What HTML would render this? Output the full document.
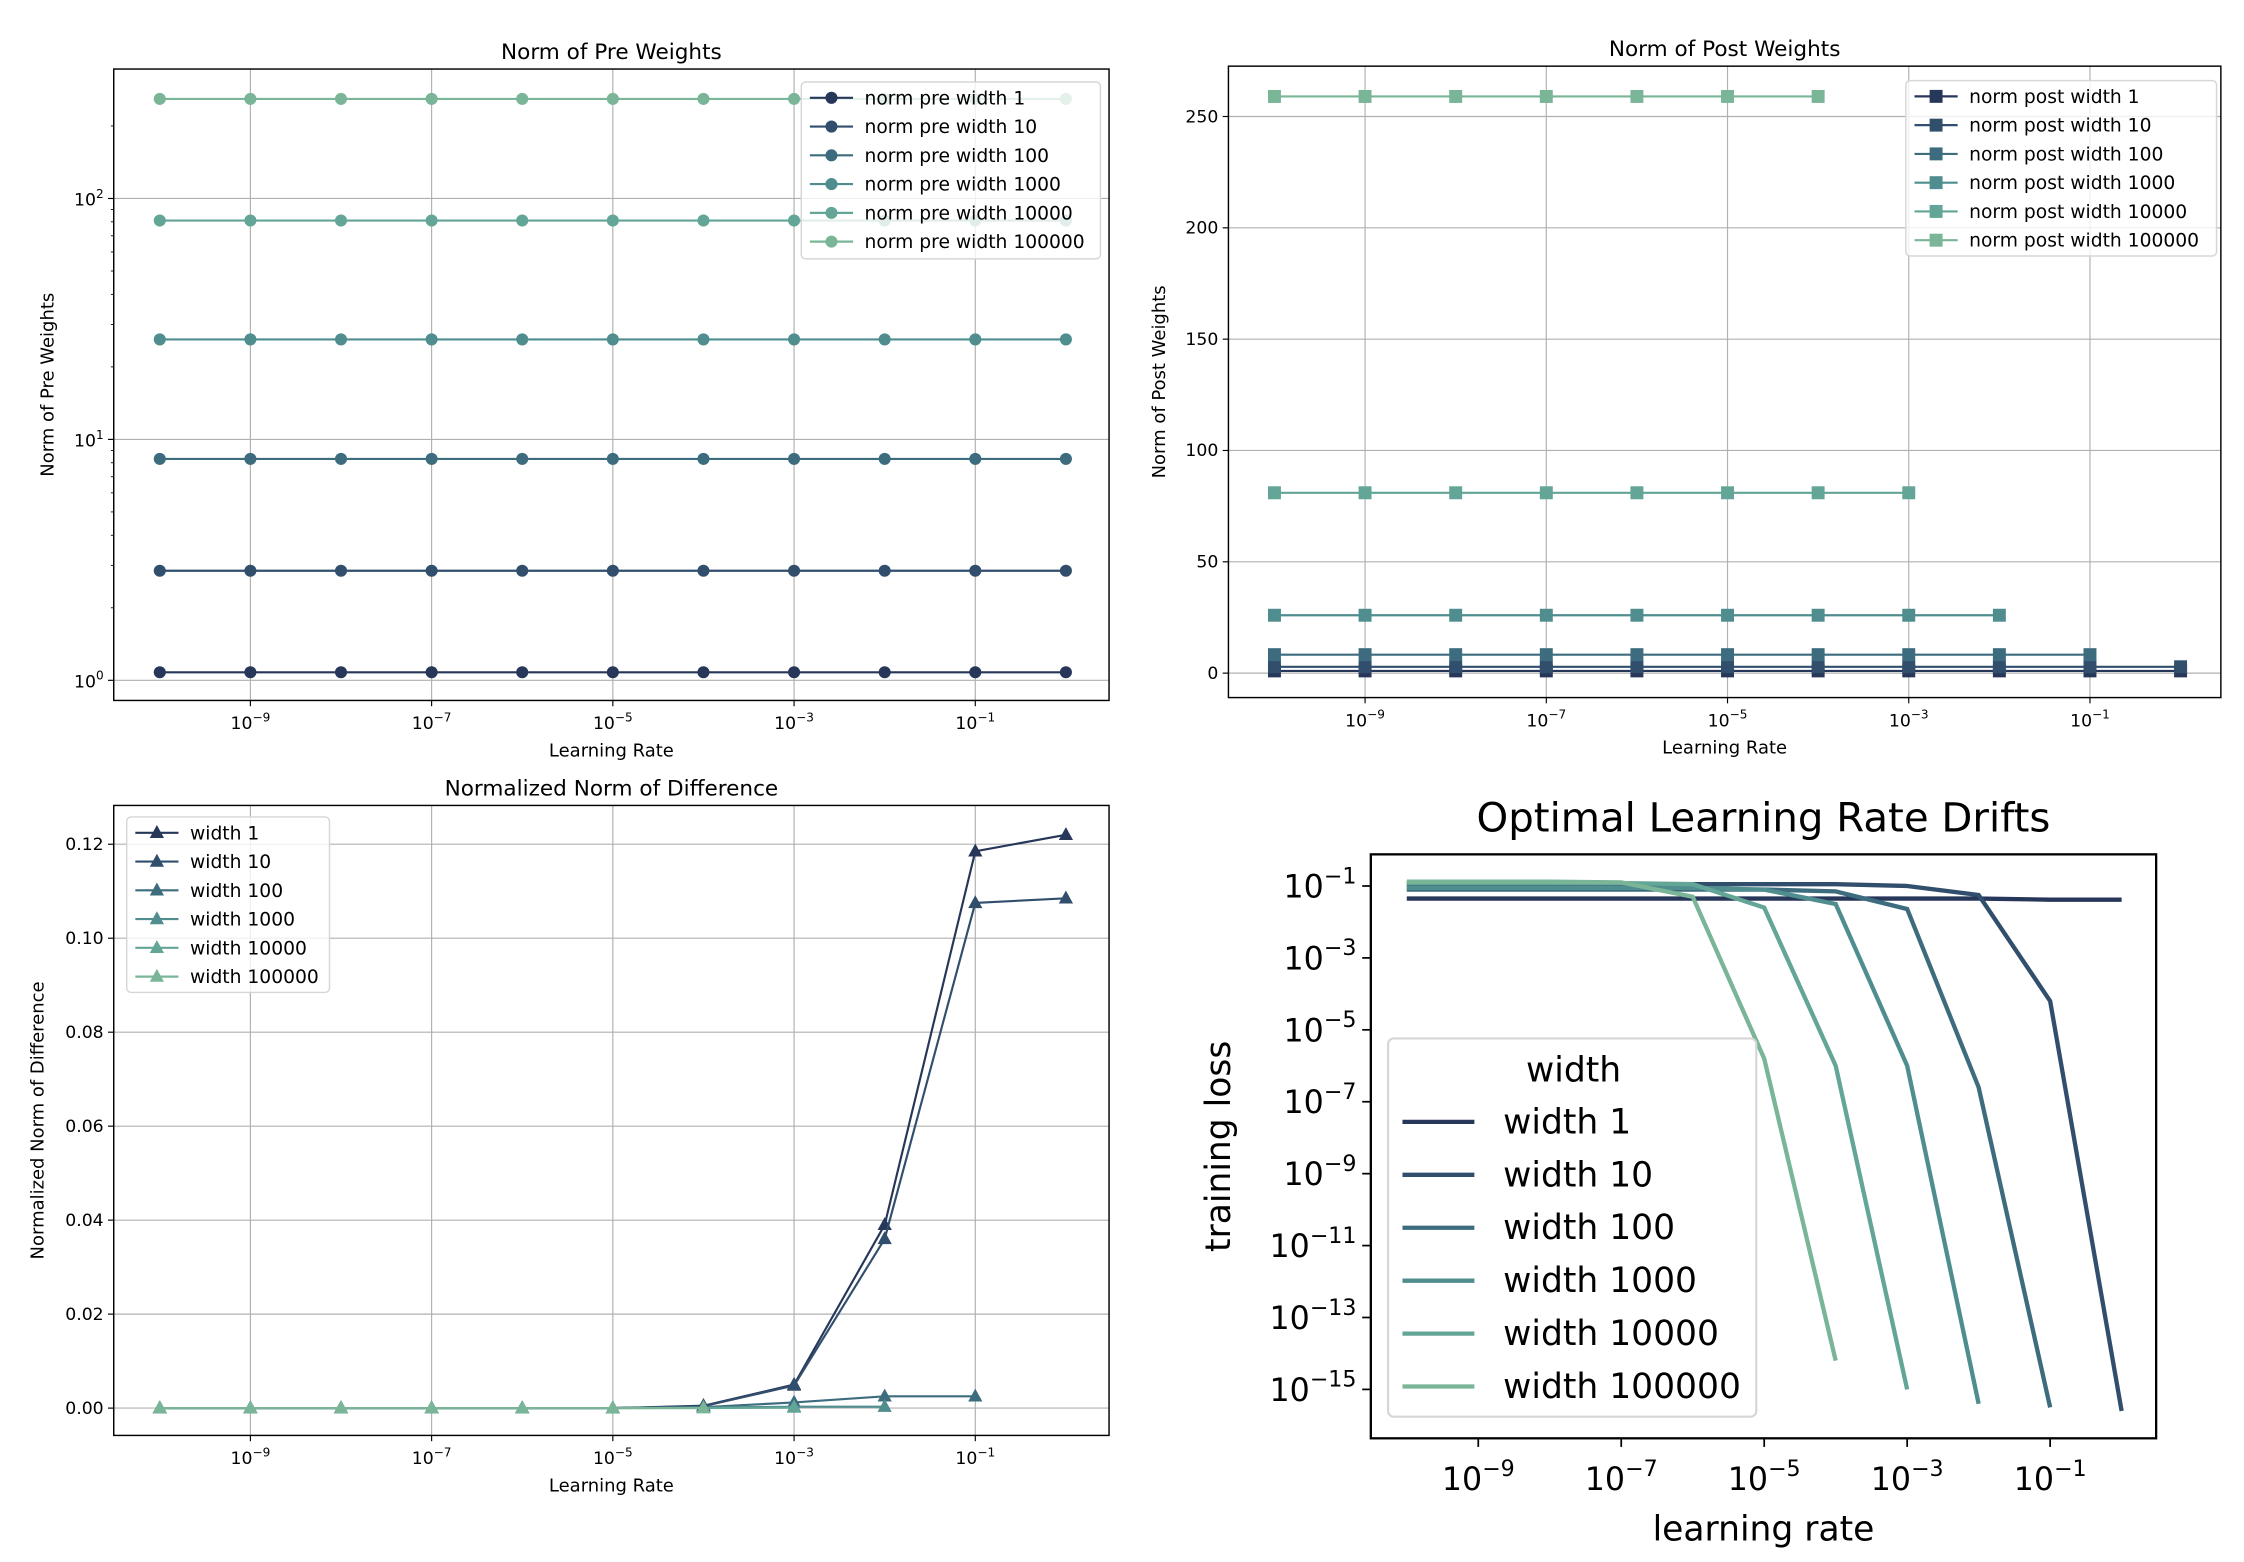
<!DOCTYPE html>
<html><head><meta charset="utf-8"><style>
html,body{margin:0;padding:0;background:#fff;}
svg{display:block;font-family:"DejaVu Sans","Liberation Sans",sans-serif;}
</style></head><body>
<svg id="fig" width="2244" height="1562" viewBox="0 0 1560 1086" xmlns="http://www.w3.org/2000/svg"></svg>
<script>
const lrExp = [-10,-9,-8,-7,-6,-5,-4,-3,-2,-1,0];
const widths = ["1","10","100","1000","10000","100000"];
const colors = ["#273759","#314f6d","#3d6c7e","#4f8d8f","#63a596","#79b596"];
// Norm of pre weights (constant across lr)
const preVals = [1.08, 2.85, 8.3, 26, 81, 259];
// Norm of post weights: number of lr points present per width
const postVals = [1.0, 2.85, 8.3, 26, 81, 259];
const postCount = [11, 11, 10, 9, 8, 7];
// Normalized norm of difference
const diff1 = [0,0,0,0,0,0,0.0005,0.005,0.039,0.1185,0.122];
const diff10 = [0,0,0,0,0,0,0.0004,0.0048,0.036,0.1075,0.1085];
const diff100 = [0,0,0,0,0,0,0.0002,0.0012,0.0025,0.0025,null];
const diff1000 = [0,0,0,0,0,0,0.0001,0.0003,0.0003,null,null];
const diff10000 = [0,0,0,0,0,0,0,0.0001,null,null,null];
const diff100000 = [0,0,0,0,0,0,0,null,null,null,null];
// training loss, log10 values
const loss1 = [-1.35,-1.35,-1.35,-1.35,-1.35,-1.35,-1.35,-1.35,-1.35,-1.38,-1.38];
const loss10 = [-0.95,-0.95,-0.95,-0.95,-0.95,-0.95,-0.95,-1.0,-1.25,-4.2,-15.6];
const loss100 = [-1.1,-1.1,-1.1,-1.1,-1.1,-1.1,-1.15,-1.64,-6.6,-15.5,null];
const loss1000 = [-1.05,-1.05,-1.05,-1.05,-1.05,-1.1,-1.5,-6.0,-15.4,null,null];
const loss10000 = [-0.92,-0.92,-0.92,-0.92,-0.95,-1.6,-6.0,-15.0,null,null,null];
const loss100000 = [-0.88,-0.88,-0.88,-0.9,-1.3,-5.8,-14.2,null,null,null,null];

const NS="http://www.w3.org/2000/svg";
const svg=document.getElementById('fig');
function el(tag,attrs,parent){const e=document.createElementNS(NS,tag);for(const k in attrs)e.setAttribute(k,attrs[k]);(parent||svg).appendChild(e);return e;}
function txt(x,y,s,size,anchor,parent,extra){const t=el('text',Object.assign({x:x,y:y,'font-size':size,'text-anchor':anchor||'middle',fill:'#000'},extra||{}),parent);t.textContent=s;return t;}
function powLabel(x,y,exp,size,anchor,parent){const t=el('text',{x:x,y:y,'font-size':size,'text-anchor':anchor,fill:'#000'},parent);
 const a=document.createElementNS(NS,'tspan');a.textContent='10';t.appendChild(a);
 const b=document.createElementNS(NS,'tspan');b.setAttribute('dy',-size*0.45);b.setAttribute('font-size',size*0.7);b.textContent=(exp<0?'\u2212':'')+Math.abs(exp);t.appendChild(b);return t;}
function marker(g,type,x,y,c,s){
 if(type==='o')return el('circle',{cx:x,cy:y,r:s,fill:c},g);
 if(type==='s')return el('rect',{x:x-s,y:y-s,width:2*s,height:2*s,fill:c},g);
 return el('polygon',{points:`${x},${y-s*1.2} ${x-s*1.1},${y+s*0.8} ${x+s*1.1},${y+s*0.8}`,fill:c},g);}

function axes(name,L,T,R,B){const g=el('g',{});return g;}

// generic x axis for top/small charts: 10^-10 .. 10^0
function smallChart(cfg){
 const g=axes(cfg.name);
 const {L,T,R,B}=cfg;
 const xs=e=>cfg.x0+(e-(-10))*cfg.dx;
 // grid
 [-9,-7,-5,-3,-1].forEach(e=>{el('line',{x1:xs(e),x2:xs(e),y1:T,y2:B,stroke:'#b0b0b0','stroke-width':0.8},g);
  el('line',{x1:xs(e),x2:xs(e),y1:B,y2:B+4,stroke:'#000','stroke-width':0.8},g);
  powLabel(xs(e),B+20,e,12,'middle',g);});
 cfg.yticks.forEach(t=>{const y=cfg.ys(t.v);el('line',{x1:L,x2:R,y1:y,y2:y,stroke:'#b0b0b0','stroke-width':0.8},g);
  el('line',{x1:L-4,x2:L,y1:y,y2:y,stroke:'#000','stroke-width':0.8},g);
  if(t.pow!==undefined)powLabel(L-7,y+5,t.pow,12,'end',g);else txt(L-7,y+4,t.s,12,'end',g);});
 (cfg.minor||[]).forEach(v=>{const y=cfg.ys(v);el('line',{x1:L-2,x2:L,y1:y,y2:y,stroke:'#000','stroke-width':0.6},g);});
 // series
 cfg.series.forEach((s,i)=>{const sg=el('g',{},g);
  
  
  const pts=[];s.forEach((v,j)=>{if(v!==null&&v!==undefined)pts.push([xs(lrExp[j]),cfg.ys(v)]);});
  el('polyline',{points:pts.map(p=>p.join(',')).join(' '),fill:'none',stroke:colors[i],'stroke-width':1.5},sg);
  pts.forEach(p=>{const m=marker(sg,cfg.mk,p[0],p[1],colors[i],cfg.ms);});});
 el('rect',{x:L,y:T,width:R-L,height:B-T,fill:'none',stroke:'#000','stroke-width':1},g);
 txt((L+R)/2,T-7,cfg.title,15,'middle',g);
 txt((L+R)/2,B+39,'Learning Rate',12.5,'middle',g);
 const yl=txt(0,0,cfg.ylabel,12.5,'middle',g,{transform:`translate(${cfg.ylx},${(T+B)/2}) rotate(-90)`});
 
 // legend
 const lg=el('g',{},g);
 
 
 const lgd=cfg.legend;
 el('rect',{x:lgd.x,y:lgd.y,width:lgd.w,height:lgd.h,rx:3,fill:'#fff','fill-opacity':0.8,stroke:'#d6d6d6'},lg);
 widths.forEach((w,i)=>{const y=lgd.y+11+i*20;const eg=el('g',{},lg);
  
  
  el('line',{x1:lgd.x+6,x2:lgd.x+36,y1:y,y2:y,stroke:colors[i],'stroke-width':1.5},eg);
  marker(eg,cfg.mk,lgd.x+21,y,colors[i],cfg.ms);
  txt(lgd.x+44,y+4.5,lgd.prefix+w,13,'start',eg);});
}

const preYs=v=>473-Math.log10(v)*167.5;
const preMinor=[];[1,10,100].forEach(b=>{for(let k=2;k<10;k++)if(b*k<300)preMinor.push(b*k);});
smallChart({name:'pre-weights-chart',L:79,T:48,R:771,B:487,x0:111,dx:63,title:'Norm of Pre Weights',ylabel:'Norm of Pre Weights',ylx:37,
 ys:preYs,yticks:[{v:1,pow:0},{v:10,pow:1},{v:100,pow:2}],minor:preMinor,mk:'o',ms:4.2,
 series:preVals.map(v=>lrExp.map(()=>v)),legend:{x:557,y:57,w:208,h:123,prefix:'norm pre width '}});

const postYs=v=>468-v*1.548;
smallChart({name:'post-weights-chart',L:854,T:46,R:1544,B:485,x0:886,dx:63,title:'Norm of Post Weights',ylabel:'Norm of Post Weights',ylx:810,
 ys:postYs,yticks:[0,50,100,150,200,250].map(v=>({v:v,s:String(v)})),mk:'s',ms:4.5,
 series:postVals.map((v,i)=>lrExp.map((e,j)=>j<postCount[i]?v:null)),legend:{x:1325,y:56,w:216,h:122,prefix:'norm post width '}});

const diffYs=v=>979-v*3267;
smallChart({name:'diff-chart',L:79,T:560,R:771,B:998,x0:111,dx:63,title:'Normalized Norm of Difference',ylabel:'Normalized Norm of Difference',ylx:30,
 ys:diffYs,yticks:[0,0.02,0.04,0.06,0.08,0.10,0.12].map(v=>({v:v,s:v.toFixed(2)})),mk:'^',ms:4.5,
 series:[diff1,diff10,diff100,diff1000,diff10000,diff100000].slice().reverse().map(a=>a).reverse(),legend:{x:88,y:568,w:141,h:122,prefix:'width '}});

// Bottom-right chart
(function(){
 const g=axes('loss-chart');
 const L=953,T=594,R=1499,B=1000;
 const xs=e=>978+(e+10)*49.7;
 const ys=l=>616-(l+1)*25;
 [-9,-7,-5,-3,-1].forEach(e=>{el('line',{x1:xs(e),x2:xs(e),y1:B,y2:B+6,stroke:'#000','stroke-width':1.2},g);powLabel(xs(e),B+36,e,22,'middle',g);});
 [-1,-3,-5,-7,-9,-11,-13,-15].forEach(e=>{const y=ys(e);el('line',{x1:L-6,x2:L,y1:y,y2:y,stroke:'#000','stroke-width':1.2},g);powLabel(L-10,y+8,e,22,'end',g);});
 const series=[loss1,loss10,loss100,loss1000,loss10000,loss100000];
 series.forEach((s,i)=>{const pts=[];s.forEach((v,j)=>{if(v!==null)pts.push(xs(lrExp[j])+','+ys(v));});
  const p=el('polyline',{points:pts.join(' '),fill:'none',stroke:colors[i],'stroke-width':3},g);
  
  });
 el('rect',{x:L,y:T,width:R-L,height:B-T,fill:'none',stroke:'#000','stroke-width':1.6},g);
 txt((L+R)/2,578,'Optimal Learning Rate Drifts',28,'middle',g);
 txt((L+R)/2,1071,'learning rate',24,'middle',g);
 txt(0,0,'training loss',24,'middle',g,{transform:`translate(855,797) rotate(-90)`});
 const lg=el('g',{},g);
 
 
 el('rect',{x:965,y:722,width:256,height:263,rx:4,fill:'#fff','fill-opacity':0.8,stroke:'#d6d6d6','stroke-width':1.5},lg);
 txt(1094,752,'width',24,'middle',lg);
 widths.forEach((w,i)=>{const y=780+i*36.8;const eg=el('g',{},lg);
  
  
  el('line',{x1:975,x2:1025,y1:y,y2:y,stroke:colors[i],'stroke-width':3},eg);
  txt(1045,y+8,'width '+w,24,'start',eg);});
})();
</script>
</body></html>
